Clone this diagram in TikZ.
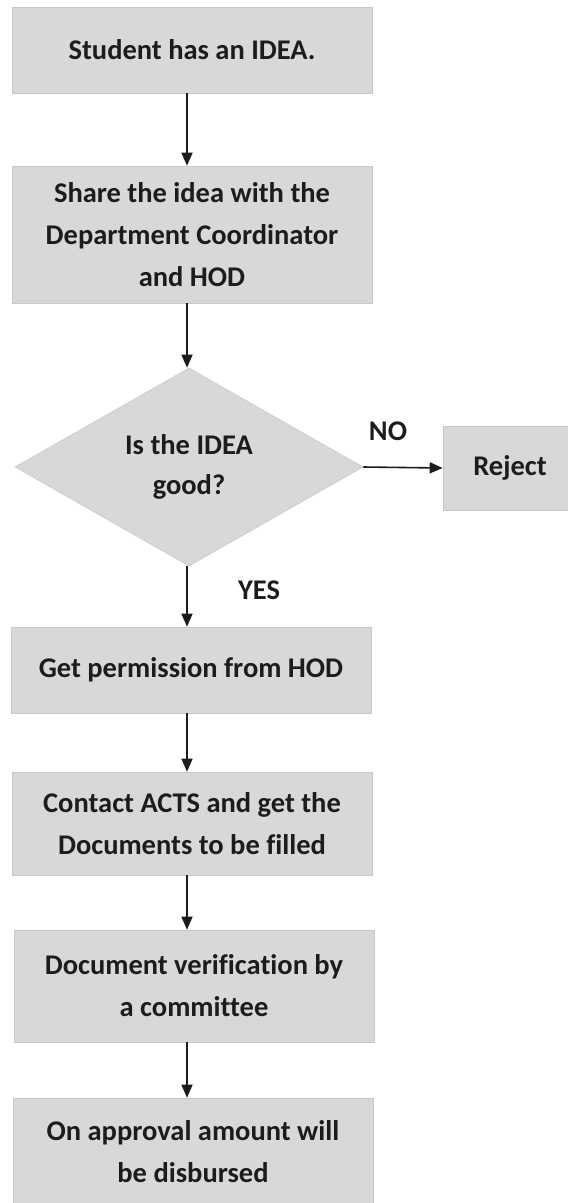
\documentclass[tikz,border=0pt]{standalone}
\usepackage{fontspec}
\setmainfont{Carlito}[Ligatures=NoCommon]
\usetikzlibrary{arrows.meta,shapes.geometric}
\definecolor{boxgray}{RGB}{216,216,219}
\definecolor{boxedge}{RGB}{200,200,203}
\definecolor{ink}{RGB}{28,28,28}
\begin{document}
\begin{tikzpicture}[x=1pt,y=-1pt,
  stepbox/.style={rectangle,fill=boxgray,draw=boxedge,line width=0.6pt,
    minimum width=360pt,align=center,text=ink,
    font=\fontsize{28.5}{42}\selectfont\bfseries,inner sep=0pt},
  decision/.style={diamond,fill=boxgray,draw=boxedge,line width=0.6pt,
    minimum width=348pt,minimum height=198pt,inner sep=0pt,aspect=1.76,
    align=center,text=ink,font=\fontsize{28.5}{40}\selectfont\bfseries},
  flow/.style={draw=ink,line width=1.6pt,-{Triangle[width=11pt,length=13pt]}},
  lbl/.style={text=ink,font=\fontsize{28.5}{30}\selectfont\bfseries,inner sep=0pt}]
\useasboundingbox[fill=white] (0,0) rectangle (568,1203);
\coordinate (ax) at (187,0);
\node[stepbox,minimum height=86pt] (b1) at (192,50) {Student has an IDEA.};
\node[stepbox,minimum height=137pt] (b2) at (192,234.5) {Share the idea with the\\Department Coordinator\\and HOD};
\node[decision] (d) at (189,467) {Is the IDEA\\good?};
\node[stepbox,minimum width=134pt,minimum height=84pt] (rej) at (510,468) {Reject};
\node[stepbox,minimum height=86pt] (b4) at (191,670) {Get permission from HOD};
\node[stepbox,minimum height=103pt] (b5) at (192,823.5) {Contact ACTS and get the\\Documents to be filled};
\node[stepbox,minimum height=112pt] (b6) at (194,986) {Document verification by\\a committee};
\node[stepbox,minimum height=108pt] (b7) at (193,1152) {On approval amount will\\be disbursed};
\node[lbl] (no) at (388,431) {NO};
\node[lbl] (yes) at (259,590) {YES};
\draw[flow] (b1.south -| ax) -- (b2.north -| ax);
\draw[flow] (b2.south -| ax) -- (d.north -| ax);
\draw[flow] (d.east) -- (rej.west);
\draw[flow] (d.south -| ax) -- (b4.north -| ax);
\draw[flow] (b4.south -| ax) -- (b5.north -| ax);
\draw[flow] (b5.south -| ax) -- (b6.north -| ax);
\draw[flow] (b6.south -| ax) -- (b7.north -| ax);
\end{tikzpicture}
\end{document}
